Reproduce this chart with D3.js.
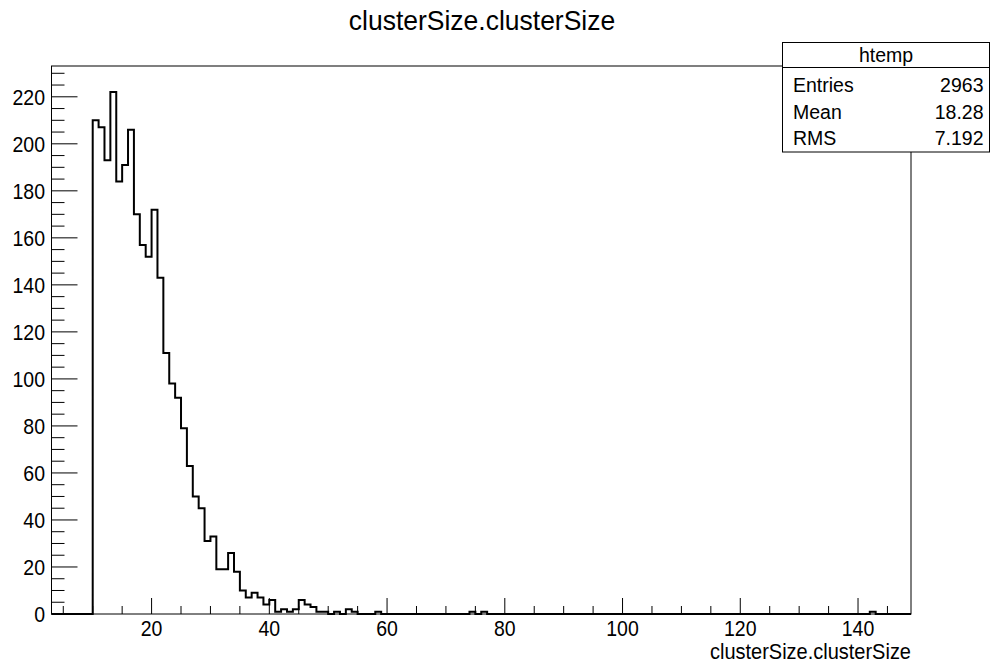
<!DOCTYPE html>
<html>
<head>
<meta charset="utf-8">
<script src="https://cdn.jsdelivr.net/npm/d3@7"></script>
<style>
  html, body { margin: 0; padding: 0; background: #fff; }
  svg { display: block; }
  text { font-family: "Liberation Sans", Arial, sans-serif; fill: #000; }
</style>
</head>
<body>
<svg id="chart" width="990" height="664"></svg>
<script>
// ---- data ----
const chartTitle = "clusterSize.clusterSize";
const xAxisTitle = "clusterSize.clusterSize";
const xDomain = [3, 149];
const yMax = 233.1;
const binStart = 3;      // lower edge of the first bin
const binWidth = 1;
const counts = [
  0, 0, 0, 0, 0, 0, 0,                                   // 3-9
  210, 207, 193, 222, 184, 191, 206, 170, 157, 152,      // 10-19
  172, 143, 111, 98, 92, 79, 63, 50, 45, 31,             // 20-29
  33, 19, 19, 26, 18, 10, 7, 9, 7, 4,                    // 30-39
  6, 1, 2, 1, 2, 6, 4, 3, 1, 1,                          // 40-49
  0, 1, 0, 2, 1, 0, 0, 0, 1, 0,                          // 50-59
  0, 0, 0, 0, 0, 0, 0, 0, 0, 0,                          // 60-69
  0, 0, 0, 0, 1, 0, 1, 0, 0, 0,                          // 70-79
  0, 0, 0, 0, 0, 0, 0, 0, 0, 0,                          // 80-89
  0, 0, 0, 0, 0, 0, 0, 0, 0, 0,                          // 90-99
  0, 0, 0, 0, 0, 0, 0, 0, 0, 0,                          // 100-109
  0, 0, 0, 0, 0, 0, 0, 0, 0, 0,                          // 110-119
  0, 0, 0, 0, 0, 0, 0, 0, 0, 0,                          // 120-129
  0, 0, 0, 0, 0, 0, 0, 0, 0, 0,                          // 130-139
  0, 0, 1, 0, 0, 0, 0, 0, 0                              // 140-148
];
const xMajorTicks = [20, 40, 60, 80, 100, 120, 140];
const yMajorTicks = [0, 20, 40, 60, 80, 100, 120, 140, 160, 180, 200, 220];
const statsTitle = "htemp";
const statsLabels = ["Entries", "Mean", "RMS"];
const statsValues = ["2963", "18.28", "7.192"];

// ---- layout ----
const frame = { left: 51.5, right: 911, top: 66, bottom: 614 };
const svg = d3.select("#chart");

const x = d3.scaleLinear().domain(xDomain).range([frame.left, frame.right]);
const y = d3.scaleLinear().domain([0, yMax]).range([frame.bottom, frame.top]);

// helper: text with slight vertical stretch
function stretchedText(sel, tx, ty, sy) {
  return sel.attr("transform", `translate(${tx},${ty}) scale(1,${sy})`);
}

// frame
svg.append("rect")
  .attr("x", frame.left).attr("y", frame.top)
  .attr("width", frame.right - frame.left).attr("height", frame.bottom - frame.top)
  .attr("fill", "none").attr("stroke", "#000").attr("stroke-width", 1);

// histogram outline
const pts = [];
counts.forEach((c, i) => {
  const lo = binStart + i * binWidth, hi = lo + binWidth;
  pts.push([lo, c], [hi, c]);
});
const line = d3.line().x(d => x(d[0])).y(d => y(d[1]));
svg.append("path")
  .attr("d", line(pts))
  .attr("fill", "none").attr("stroke", "#000").attr("stroke-width", 2)
  .attr("stroke-linejoin", "miter");

// x axis ticks
const xMinor = d3.range(5, 149, 5);
const gx = svg.append("g");
gx.selectAll("line").data(xMinor).join("line")
  .attr("x1", d => x(d)).attr("x2", d => x(d))
  .attr("y1", frame.bottom).attr("y2", d => frame.bottom - (d % 20 === 0 ? 16 : 8))
  .attr("stroke", "#000").attr("stroke-width", 1);
gx.selectAll("text").data(xMajorTicks).join("text")
  .each(function(d) { stretchedText(d3.select(this), x(d), 636, 1.12); })
  .attr("text-anchor", "middle").attr("font-size", 19.5)
  .text(d => d);

// y axis ticks
const yMinor = d3.range(0, 233, 5);
const gy = svg.append("g");
gy.selectAll("line").data(yMinor).join("line")
  .attr("x1", frame.left).attr("x2", d => frame.left + (d % 20 === 0 ? 26 : 13))
  .attr("y1", d => y(d)).attr("y2", d => y(d))
  .attr("stroke", "#000").attr("stroke-width", 1);
gy.selectAll("text").data(yMajorTicks).join("text")
  .each(function(d) { stretchedText(d3.select(this), 45, y(d) + 8, 1.15); })
  .attr("text-anchor", "end").attr("font-size", 19.5)
  .text(d => d);

// titles
stretchedText(svg.append("text"), 482, 30, 1.05)
  .attr("text-anchor", "middle").attr("font-size", 26.5)
  .text(chartTitle);
stretchedText(svg.append("text"), frame.right, 659, 1.12)
  .attr("text-anchor", "end").attr("font-size", 20)
  .text(xAxisTitle);

// stats box
const sb = { left: 782.5, top: 42.5, right: 989.5, bottom: 152, header: 67.5 };
svg.append("rect")
  .attr("x", sb.left).attr("y", sb.top)
  .attr("width", sb.right - sb.left).attr("height", sb.bottom - sb.top)
  .attr("fill", "#fff").attr("stroke", "#000").attr("stroke-width", 1);
svg.append("line")
  .attr("x1", sb.left).attr("x2", sb.right)
  .attr("y1", sb.header).attr("y2", sb.header)
  .attr("stroke", "#000").attr("stroke-width", 1);
svg.append("text")
  .attr("x", (sb.left + sb.right) / 2).attr("y", 62)
  .attr("text-anchor", "middle").attr("font-size", 19.5)
  .text(statsTitle);
const rowY = [92, 118.5, 145];
statsLabels.forEach((lab, i) => {
  svg.append("text").attr("x", 793).attr("y", rowY[i])
    .attr("font-size", 19.5).text(lab);
  svg.append("text").attr("x", 983.5).attr("y", rowY[i])
    .attr("text-anchor", "end").attr("font-size", 19.5).text(statsValues[i]);
});
</script>
</body>
</html>
